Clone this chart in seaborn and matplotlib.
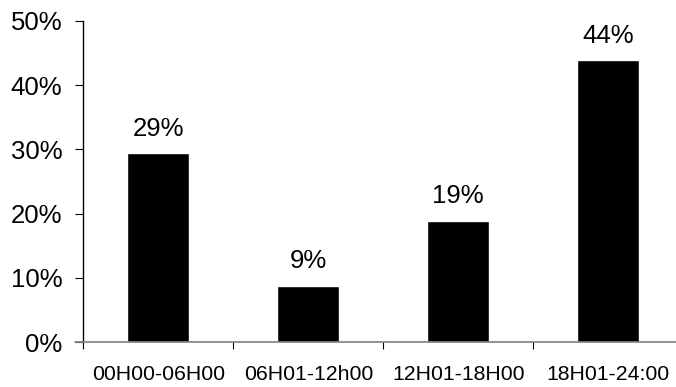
import matplotlib
matplotlib.use("Agg")
import matplotlib.pyplot as plt
import seaborn as sns
import pandas as pd
from matplotlib.ticker import FuncFormatter

# data
periods = ["00H00-06H00", "06H01-12h00", "12H01-18H00", "18H01-24:00"]
shares = [29.4, 8.8, 18.9, 43.9]

df = pd.DataFrame({"period": periods, "share": shares})

sns.set_style("white")
plt.rcParams["font.family"] = ["Liberation Sans", "DejaVu Sans"]

fig = plt.figure(figsize=(6.76, 3.87), dpi=100)
ax = fig.add_axes([0.1232, 0.1155, 0.8876, 0.831])

sns.barplot(data=df, x="period", y="share", color="black", saturation=1,
            width=0.413, ax=ax)

ax.set_ylim(0, 50)
ax.set_xlim(-0.5, 3.5)
ax.set_yticks(range(0, 51, 10))
ax.yaxis.set_major_formatter(FuncFormatter(lambda v, _: f"{v:.0f}%"))
ax.set_xlabel("")
ax.set_ylabel("")

# value labels above bars
for i, v in enumerate(shares):
    ax.annotate(f"{v:.0f}%", (i, v), xytext=(0, 12.5), textcoords="offset points",
                ha="center", va="baseline", fontsize=18.5, color="black")

# spines
for s in ["top", "right"]:
    ax.spines[s].set_visible(False)
ax.spines["left"].set_color("black")
ax.spines["left"].set_linewidth(1.0)
ax.spines["bottom"].set_color("#808080")
ax.spines["bottom"].set_linewidth(1.2)
# zero line runs out to the left like a tick
ax.plot([-0.555, -0.5], [0, 0], color="#808080", lw=1.2, clip_on=False)

# y ticks
ax.tick_params(axis="y", direction="out", length=6, width=0.8, color="black",
               labelsize=18.5, pad=9, left=True)
# x: labels at centers, tick marks at category boundaries
ax.tick_params(axis="x", which="major", length=0, labelsize=15.3, pad=16)
ax.set_xticks([-0.5, 0.5, 1.5, 2.5, 3.5], minor=True)
ax.tick_params(axis="x", which="minor", direction="out", length=5, width=0.8,
               color="black", bottom=True)

for lbl in ax.get_xticklabels() + ax.get_yticklabels():
    lbl.set_color("black")

fig.savefig("out.png", dpi=100)
